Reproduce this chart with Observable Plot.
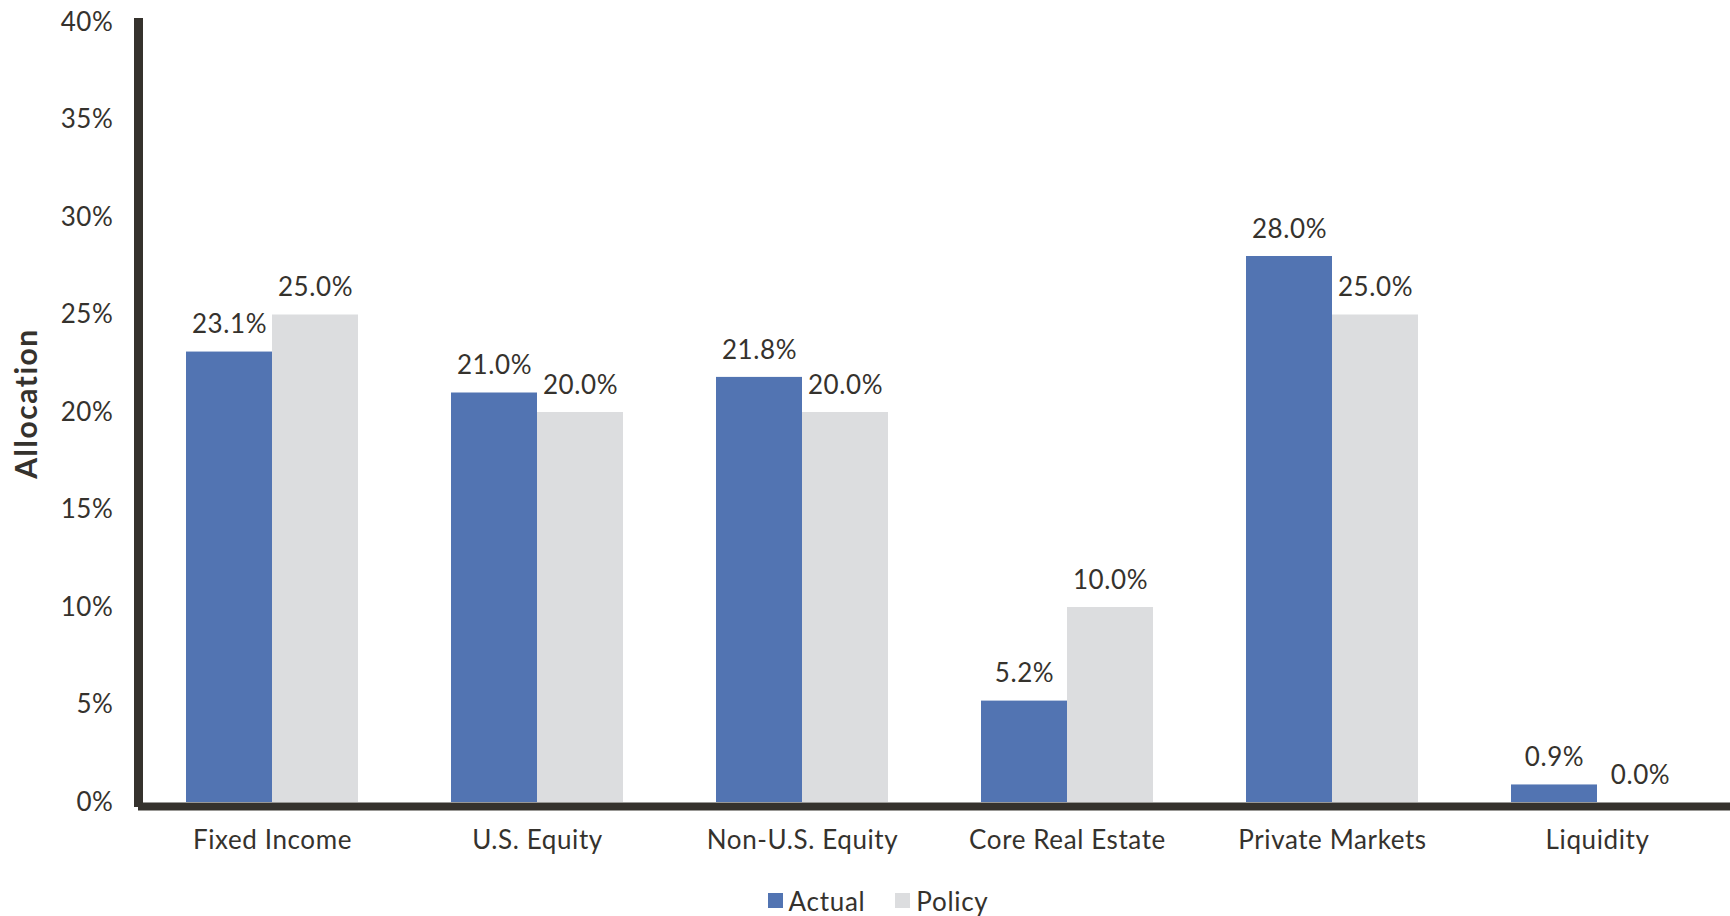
<!DOCTYPE html>
<html><head><meta charset="utf-8">
<script src="https://cdn.jsdelivr.net/npm/d3@7"></script>
<script src="https://cdn.jsdelivr.net/npm/@observablehq/plot@0.6"></script>
<style>
body{margin:0;background:#fff;font-family:Lato,sans-serif;}
#legend{display:flex;justify-content:center;margin-top:14px;padding-left:56px;}
.lg-swatch{margin-right:30px !important;letter-spacing:0.7px;}
.lg-swatch svg{margin-right:6px !important;}
#chart svg text{letter-spacing:0.6px;}
#chart svg text.ylab{letter-spacing:1.5px;}
</style></head><body><div id="chart"></div><div id="legend"></div><script>
const categories = ["Fixed Income","U.S. Equity","Non-U.S. Equity","Core Real Estate","Private Markets","Liquidity"];
const actual = [23.1,21.0,21.8,5.2,28.0,0.9];
const policy = [25.0,20.0,20.0,10.0,25.0,0.0];
const series = ["Actual","Policy"];
const seriesColors = ["#5274b2","#dcdddf"];
const yTicks = [0,5,10,15,20,25,30,35,40];
const yTitle = ["Allocation"];

const data = categories.flatMap((c,i)=>[
  {category:c, series:"Actual", value:actual[i]},
  {category:c, series:"Policy", value:policy[i]}
]);
const ink = "#35322d";
const fmt = d => d.value.toFixed(1) + "%";
const half = 86;

const chart = Plot.plot({
  width:1730, height:870, marginLeft:138, marginRight:0, marginTop:22, marginBottom:68,
  style:{fontFamily:"Lato, sans-serif", fontSize:"26px", color:ink, background:"white"},
  x:{domain:categories, paddingInner:0.352, paddingOuter:0.176},
  y:{domain:[0,40]},
  color:{domain:series, range:seriesColors},
  marks:[
    Plot.barY(data.filter(d=>d.series==="Actual"), {x:"category", y:"value", fill:"series", insetRight:half}),
    Plot.barY(data.filter(d=>d.series==="Policy"), {x:"category", y:"value", fill:"series", insetLeft:half}),
    Plot.text(data.filter(d=>d.series==="Actual"), {x:"category", y:"value", text:fmt, dx:-half/2, dy:-27, fill:ink, fontSize:26}),
    Plot.text(data.filter(d=>d.series==="Policy"), {x:"category", y:"value", text:fmt, dx:half/2, dy:-27, fill:ink, fontSize:26}),
    Plot.axisY({ticks:yTicks, tickFormat:d=>d+"%", tickSize:0, tickPadding:25, label:null, fontSize:26}),
    Plot.text(yTitle, {frameAnchor:"left", textAnchor:"middle", text:d=>d, rotate:-90, dx:-111, dy:-9, fontWeight:"bold", fontSize:30, fill:ink, className:"ylab"}),
    Plot.axisX({tickSize:0, tickPadding:28, label:null, fontSize:26}),
    Plot.frame({anchor:"left", stroke:ink, strokeWidth:9}),
    Plot.ruleY([0], {stroke:ink, strokeWidth:8, dy:4})
  ]
});
chart.querySelectorAll("g.ylab text").forEach(t => t.classList.add("ylab"));
document.getElementById("chart").append(chart);

const legend = Plot.legend({
  color:{domain:series, range:seriesColors},
  swatchSize:15, className:"lg",
  style:{fontSize:"26px", fontFamily:"Lato, sans-serif", color:ink}
});
document.getElementById("legend").append(legend);
</script></body></html>
